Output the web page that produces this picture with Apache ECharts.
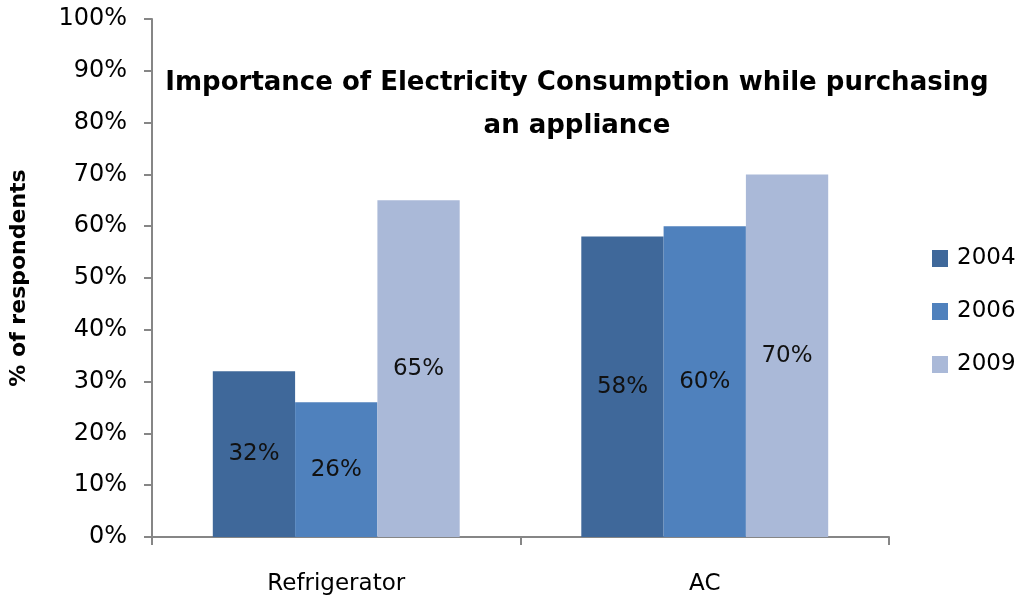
<!DOCTYPE html>
<html>
<head>
<meta charset="utf-8">
<script src="https://cdn.jsdelivr.net/npm/echarts@6/dist/echarts.min.js"></script>
<style>html,body{margin:0;padding:0;background:#fff}#c{width:1020px;height:596px}</style>
</head>
<body>
<div id="c"></div>
<script>
const categories = ['Refrigerator', 'AC'];
const seriesNames = ['2004', '2006', '2009'];
const values2004 = [32, 58];
const values2006 = [26, 60];
const values2009 = [65, 70];
const yTicks = [0, 10, 20, 30, 40, 50, 60, 70, 80, 90, 100];
const colors = ['#3F689A', '#4F81BD', '#AAB9D8'];

const font = 'DejaVu Sans';
const chart = echarts.init(document.getElementById('c'), null, {renderer: 'canvas'});
const allValues = [values2004, values2006, values2009];
chart.setOption({
  animation: false,
  backgroundColor: '#fff',
  title: {
    text: 'Importance of Electricity Consumption while purchasing\nan appliance',
    left: 577, top: 62, textAlign: 'center', padding: 0,
    textStyle: {fontFamily: font, fontWeight: 'bold', fontSize: 26, lineHeight: 43, color: '#000'}
  },
  legend: {
    orient: 'vertical', left: 932, top: 247, padding: 0,
    itemWidth: 16, itemHeight: 17, itemGap: 30,
    icon: 'rect',
    textStyle: {fontFamily: font, fontSize: 23, color: '#000', padding: [0, 0, 0, 4]},
    data: seriesNames
  },
  grid: {left: 150, right: 131, top: 19, bottom: 59, containLabel: false},
  xAxis: {
    type: 'category', data: categories,
    axisLine: {lineStyle: {color: '#868686', width: 2}},
    axisTick: {show: true, length: 8, lineStyle: {color: '#868686', width: 2}},
    axisLabel: {fontFamily: font, fontSize: 23, color: '#000', margin: 36}
  },
  yAxis: {
    type: 'value', min: 0, max: 100, interval: 10,
    name: '% of respondents', nameLocation: 'middle', nameGap: 122, nameRotate: 90,
    nameTextStyle: {fontFamily: font, fontWeight: 'bold', fontSize: 22, color: '#000'},
    axisLine: {show: true, lineStyle: {color: '#868686', width: 2}},
    axisTick: {show: true, length: 8, lineStyle: {color: '#868686', width: 2}},
    splitLine: {show: false},
    axisLabel: {fontFamily: font, fontSize: 24, color: '#000', margin: 25,
      formatter: v => yTicks.includes(v) ? v + '%' : ''}
  },
  series: seriesNames.map((n, i) => ({
    name: n, type: 'bar', data: allValues[i],
    barGap: '0%', barCategoryGap: '33%',
    itemStyle: {color: colors[i]},
    label: {show: true, position: 'inside', formatter: '{c}%', fontFamily: font, fontSize: 23, color: '#111'}
  }))
});
</script>
</body>
</html>
